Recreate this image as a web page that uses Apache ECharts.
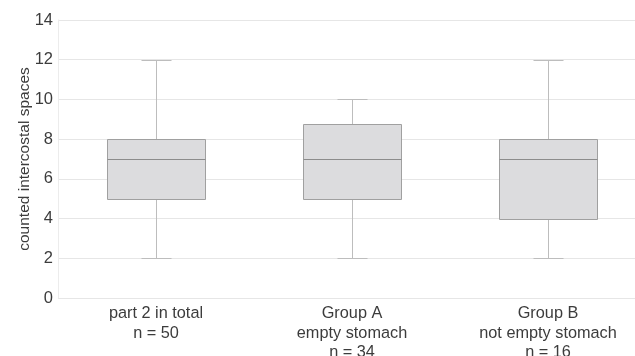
<!DOCTYPE html>
<html>
<head>
<meta charset="utf-8">
<script src="https://cdn.jsdelivr.net/npm/echarts@6/dist/echarts.min.js"></script>
<style>
  html, body { margin: 0; padding: 0; background: #fff; }
  #chart { width: 635px; height: 356px; }
</style>
</head>
<body>
<div id="chart"></div>
<script>
const categories = [
  'part 2 in total\nn = 50',
  'Group A\nempty stomach\nn = 34',
  'Group B\nnot empty stomach\nn = 16',
]
const mins = [2, 2, 2]
const q1s = [5, 5, 4]
const medians = [7, 7, 7]
const q3s = [8, 8.75, 8]
const maxs = [12, 10, 12]
const yTicks = [0, 2, 4, 6, 8, 10, 12, 14]

const font = 'Liberation Sans, Arial, sans-serif'
const crisp = (v) => Math.round(v) + 0.5

const chart = echarts.init(document.getElementById('chart'))

chart.setOption({
  backgroundColor: '#fff',
  animation: false,
  grid: { left: 58, top: 20, width: 588, height: 278, outerBoundsMode: 'none' },
  xAxis: {
    type: 'category',
    data: categories,
    axisLine: { show: false },
    axisTick: { show: false },
    axisLabel: {
      interval: 0,
      margin: 6,
      color: '#3c3c3c',
      fontFamily: font,
      fontSize: 16.3,
      lineHeight: 19.5,
    },
  },
  yAxis: {
    type: 'value',
    min: yTicks[0],
    max: yTicks[yTicks.length - 1],
    interval: 2,
    name: 'counted intercostal spaces',
    nameLocation: 'middle',
    nameRotate: 90,
    nameGap: 25,
    nameMoveOverlap: false,
    nameTextStyle: { color: '#3c3c3c', fontFamily: font, fontSize: 15.5 },
    axisLine: { show: true, lineStyle: { color: '#ececec' } },
    axisTick: { show: false },
    axisLabel: { color: '#3c3c3c', fontFamily: font, fontSize: 16.5, margin: 5 },
    splitLine: { lineStyle: { color: '#e6e6e6' } },
  },
  series: [
    {
      type: 'custom',
      encode: { x: 0, y: [1, 2, 3, 4, 5] },
      data: categories.map((c, i) => [i, mins[i], q1s[i], medians[i], q3s[i], maxs[i]]),
      renderItem(params, api) {
        const i = api.value(0)
        const cx = crisp(api.coord([i, 0])[0])
        const yMin = crisp(api.coord([i, api.value(1)])[1])
        const yQ1 = crisp(api.coord([i, api.value(2)])[1])
        const yMed = crisp(api.coord([i, api.value(3)])[1])
        const yQ3 = crisp(api.coord([i, api.value(4)])[1])
        const yMax = crisp(api.coord([i, api.value(5)])[1])
        const half = Math.round(api.size([1, 0])[0] * 0.25)
        const cap = 15
        const whisker = { stroke: '#bdbdbd', lineWidth: 1 }
        return {
          type: 'group',
          children: [
            { type: 'line', shape: { x1: cx, y1: yMax, x2: cx, y2: yQ3 }, style: whisker },
            { type: 'line', shape: { x1: cx, y1: yQ1, x2: cx, y2: yMin }, style: whisker },
            { type: 'line', shape: { x1: cx - cap, y1: yMax, x2: cx + cap, y2: yMax }, style: whisker },
            { type: 'line', shape: { x1: cx - cap, y1: yMin, x2: cx + cap, y2: yMin }, style: whisker },
            {
              type: 'rect',
              shape: { x: cx - half, y: yQ3, width: half * 2, height: yQ1 - yQ3 },
              style: { fill: '#dcdcde', stroke: '#a0a0a0', lineWidth: 1 },
            },
            {
              type: 'line',
              shape: { x1: cx - half, y1: yMed, x2: cx + half, y2: yMed },
              style: { stroke: '#8c8c8c', lineWidth: 1 },
            },
          ],
        }
      },
    },
  ],
})
</script>
</body>
</html>
